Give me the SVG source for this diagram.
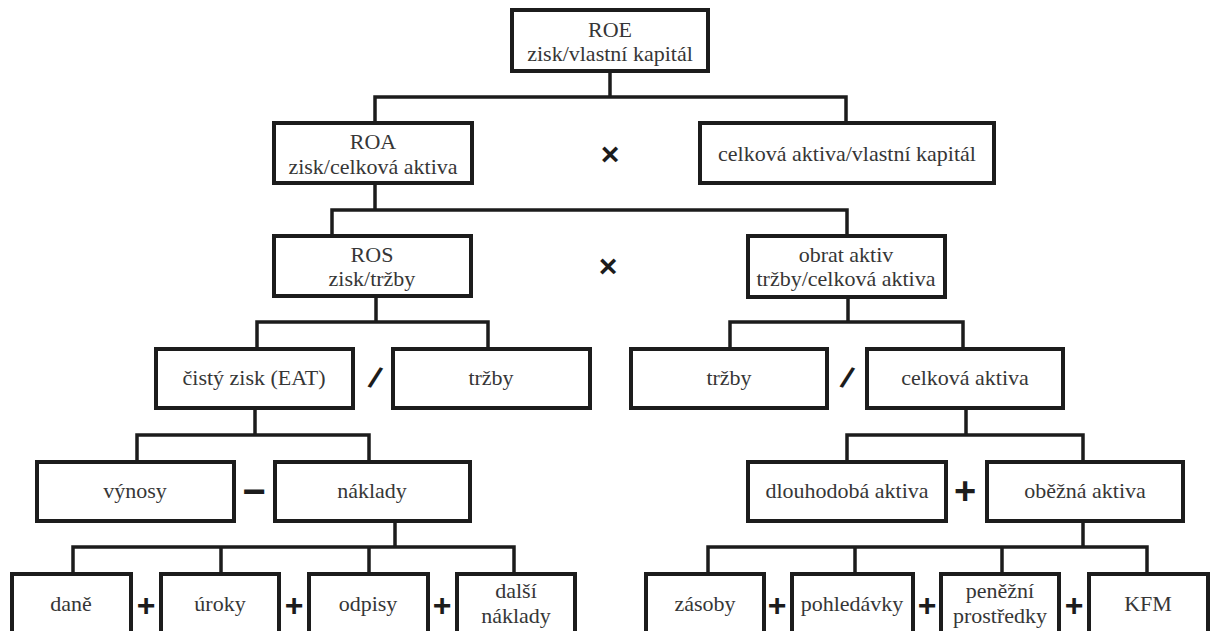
<svg xmlns="http://www.w3.org/2000/svg" width="1216" height="631" viewBox="0 0 1216 631">
  <style>
    .box { fill: #ffffff; stroke: #1c1c1c; stroke-width: 4; }
    .lbl { font-family: "Liberation Serif", "Times New Roman", serif; font-size: 22px; fill: #363636; text-anchor: middle; }
    .op { font-family: "Liberation Sans", Arial, sans-serif; font-weight: bold; fill: #1c1c1c; text-anchor: middle; }
    .wire { fill: none; stroke: #1c1c1c; stroke-width: 3.5; stroke-linejoin: miter; stroke-linecap: square; }
  </style>
  <rect width="1216" height="631" fill="#ffffff"/>

  <!-- tree connectors -->
  <g id="connectors">
    <path class="wire" d="M610,71 V97 M375,123 V97 H846 V123"/>
    <path class="wire" d="M375,183 V210 M332,236 V210 H847 V236"/>
    <path class="wire" d="M376,296 V322 M257,349 V322 H488 V349"/>
    <path class="wire" d="M848,297 V322 M730,349 V322 H963 V349"/>
    <path class="wire" d="M255,408 V435 M137,462 V435 H369 V462"/>
    <path class="wire" d="M966,408 V435 M847,462 V435 H1083 V462"/>
    <path class="wire" d="M395,521 V547 M73,574 V547 H514 V574 M221,547 V574 M369,547 V574"/>
    <path class="wire" d="M1083,521 V547 M708,574 V547 H1147 V574 M855,547 V574 M1002,547 V574"/>
  </g>

  <!-- level 1 -->
  <g id="roe">
    <rect class="box" x="512" y="10" width="196" height="61"/>
    <text class="lbl" x="610" y="36.5">ROE</text>
    <text class="lbl" x="610" y="61">zisk/vlastní kapitál</text>
  </g>

  <!-- level 2 -->
  <g id="roa">
    <rect class="box" x="274" y="123" width="198" height="60"/>
    <text class="lbl" x="373" y="149">ROA</text>
    <text class="lbl" x="373" y="173.5">zisk/celková aktiva</text>
  </g>
  <g id="op-times-1"><text class="op" x="610" y="165" font-size="32">×</text></g>
  <g id="leverage">
    <rect class="box" x="700" y="123" width="294" height="60"/>
    <text class="lbl" x="847" y="161">celková aktiva/vlastní kapitál</text>
  </g>

  <!-- level 3 -->
  <g id="ros">
    <rect class="box" x="274" y="236" width="197" height="60"/>
    <text class="lbl" x="372" y="261.5">ROS</text>
    <text class="lbl" x="372" y="286">zisk/tržby</text>
  </g>
  <g id="op-times-2"><text class="op" x="608" y="277" font-size="32">×</text></g>
  <g id="turnover">
    <rect class="box" x="748" y="236" width="197" height="61"/>
    <text class="lbl" x="846" y="261.5">obrat aktiv</text>
    <text class="lbl" x="846" y="286">tržby/celková aktiva</text>
  </g>

  <!-- level 4 -->
  <g id="net-profit">
    <rect class="box" x="156" y="349" width="197" height="59"/>
    <text class="lbl" x="254" y="385">čistý zisk (EAT)</text>
  </g>
  <g id="op-div-1"><text class="op" x="375" y="388" font-size="30" transform="rotate(22 375 378)">/</text></g>
  <g id="sales-1">
    <rect class="box" x="393" y="349" width="197" height="59"/>
    <text class="lbl" x="491" y="385">tržby</text>
  </g>
  <g id="sales-2">
    <rect class="box" x="631" y="349" width="196" height="59"/>
    <text class="lbl" x="729" y="385">tržby</text>
  </g>
  <g id="op-div-2"><text class="op" x="847" y="388" font-size="30" transform="rotate(22 847 378)">/</text></g>
  <g id="total-assets">
    <rect class="box" x="867" y="349" width="196" height="59"/>
    <text class="lbl" x="965" y="385">celková aktiva</text>
  </g>

  <!-- level 5 -->
  <g id="revenues">
    <rect class="box" x="37" y="462" width="197" height="59"/>
    <text class="lbl" x="135" y="498">výnosy</text>
  </g>
  <g id="op-minus"><text class="op" x="254" y="505" font-size="40">−</text></g>
  <g id="costs">
    <rect class="box" x="275" y="462" width="195" height="59"/>
    <text class="lbl" x="372" y="498">náklady</text>
  </g>
  <g id="fixed-assets">
    <rect class="box" x="748" y="462" width="198" height="59"/>
    <text class="lbl" x="847" y="498">dlouhodobá aktiva</text>
  </g>
  <g id="op-plus-1"><text class="op" x="965" y="504" font-size="38">+</text></g>
  <g id="current-assets">
    <rect class="box" x="987" y="462" width="196" height="59"/>
    <text class="lbl" x="1085" y="498">oběžná aktiva</text>
  </g>

  <!-- level 6: costs -->
  <g id="taxes">
    <rect class="box" x="12" y="574" width="119" height="70"/>
    <text class="lbl" x="71" y="611">daně</text>
  </g>
  <g id="op-plus-2"><text class="op" x="146" y="616" font-size="32">+</text></g>
  <g id="interest">
    <rect class="box" x="161" y="574" width="118" height="70"/>
    <text class="lbl" x="220" y="611">úroky</text>
  </g>
  <g id="op-plus-3"><text class="op" x="294" y="616" font-size="32">+</text></g>
  <g id="depreciation">
    <rect class="box" x="309" y="574" width="119" height="70"/>
    <text class="lbl" x="368" y="611">odpisy</text>
  </g>
  <g id="op-plus-4"><text class="op" x="442" y="616" font-size="32">+</text></g>
  <g id="other-costs">
    <rect class="box" x="457" y="574" width="118" height="70"/>
    <text class="lbl" x="516" y="598">další</text>
    <text class="lbl" x="516" y="622.5">náklady</text>
  </g>

  <!-- level 6: current assets -->
  <g id="inventory">
    <rect class="box" x="646" y="574" width="118" height="70"/>
    <text class="lbl" x="705" y="611">zásoby</text>
  </g>
  <g id="op-plus-5"><text class="op" x="777" y="616" font-size="32">+</text></g>
  <g id="receivables">
    <rect class="box" x="792" y="574" width="121" height="70"/>
    <text class="lbl" x="852" y="611">pohledávky</text>
  </g>
  <g id="op-plus-6"><text class="op" x="927" y="616" font-size="32">+</text></g>
  <g id="cash">
    <rect class="box" x="941" y="574" width="118" height="70"/>
    <text class="lbl" x="1000" y="598">peněžní</text>
    <text class="lbl" x="1000" y="622.5">prostředky</text>
  </g>
  <g id="op-plus-7"><text class="op" x="1074" y="616" font-size="32">+</text></g>
  <g id="kfm">
    <rect class="box" x="1089" y="574" width="119" height="70"/>
    <text class="lbl" x="1148" y="611">KFM</text>
  </g>
</svg>
